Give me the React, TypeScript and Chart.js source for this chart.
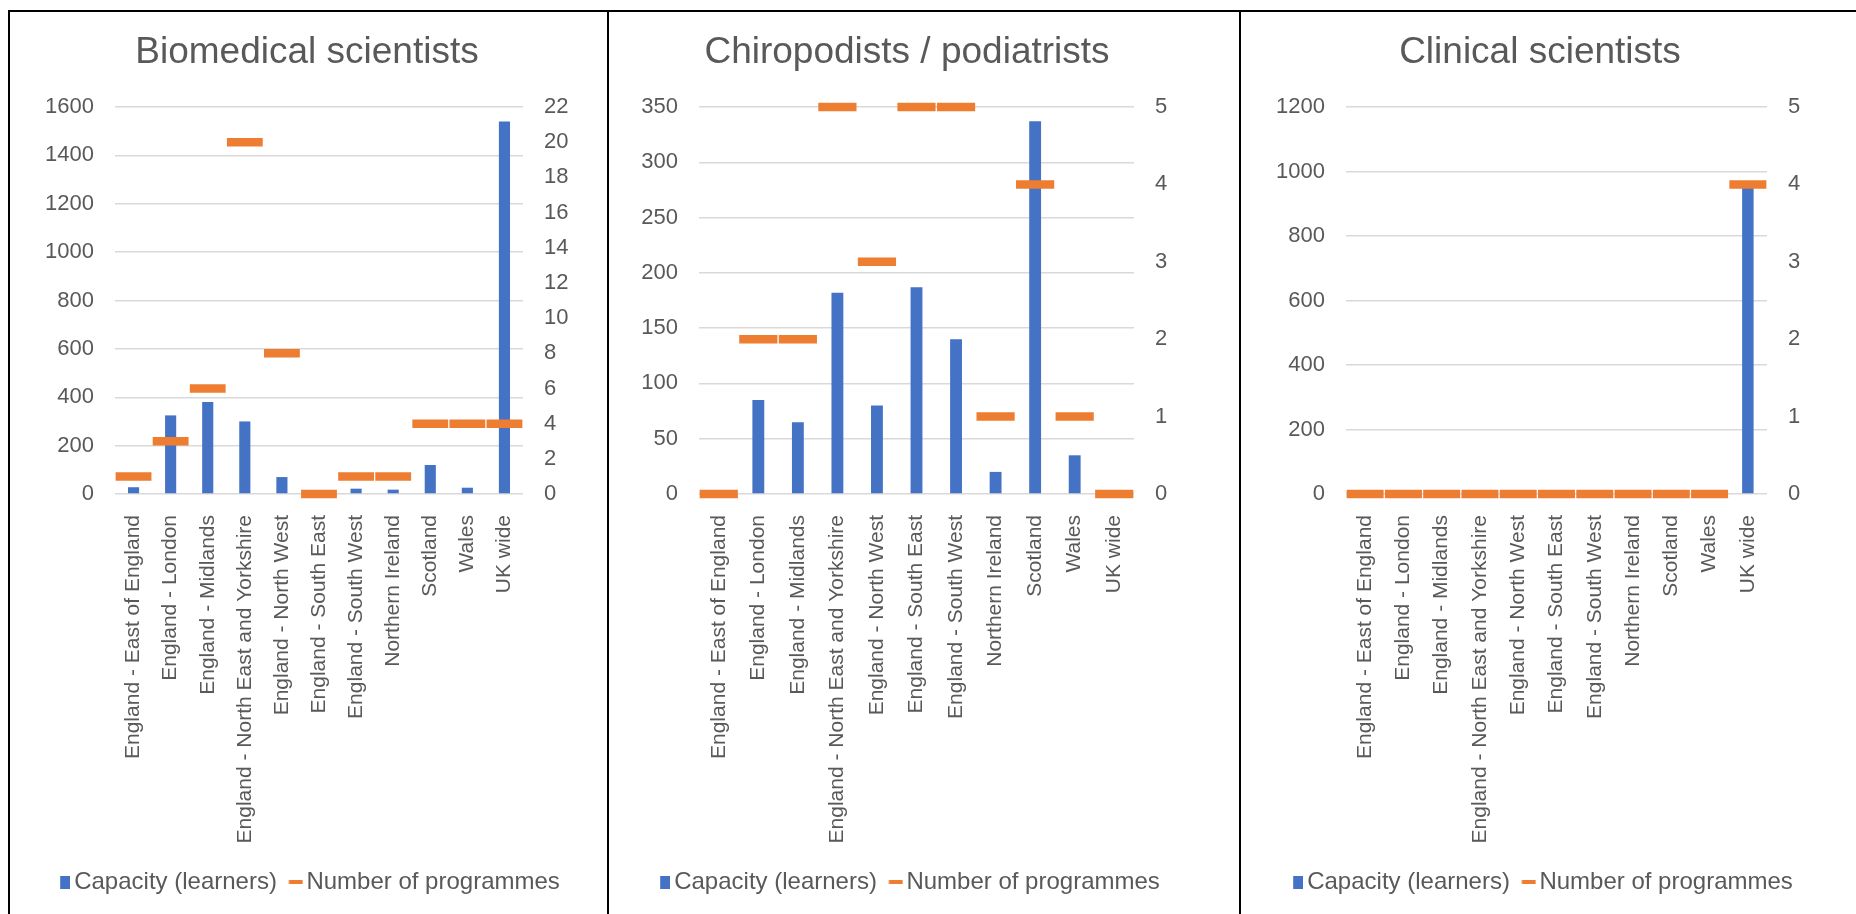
import React, { useEffect, useRef } from 'react';
import { Chart, registerables } from 'chart.js';

Chart.register(...registerables);

// ---------- data ----------
const categories = [
  'England - East of England',
  'England - London',
  'England - Midlands',
  'England - North East and Yorkshire',
  'England - North West',
  'England - South East',
  'England - South West',
  'Northern Ireland',
  'Scotland',
  'Wales',
  'UK wide',
];

const seriesNames = ['Capacity (learners)', 'Number of programmes'];

const biomedicalCapacity = [28, 325, 380, 300, 70, 0, 22, 18, 120, 26, 1540];
const biomedicalProgrammes = [1, 3, 6, 20, 8, 0, 1, 1, 4, 4, 4];

const chiropodistsCapacity = [0, 85, 65, 182, 80, 187, 140, 20, 337, 35, 0];
const chiropodistsProgrammes = [0, 2, 2, 5, 3, 5, 5, 1, 4, 1, 0];

const clinicalCapacity = [0, 0, 0, 0, 0, 0, 0, 0, 0, 0, 955];
const clinicalProgrammes = [0, 0, 0, 0, 0, 0, 0, 0, 0, 0, 4];

const biomedicalLeftTicks = { max: 1600, step: 200 };
const biomedicalRightTicks = { max: 22, step: 2 };
const chiropodistsLeftTicks = { max: 350, step: 50 };
const chiropodistsRightTicks = { max: 5, step: 1 };
const clinicalLeftTicks = { max: 1200, step: 200 };
const clinicalRightTicks = { max: 5, step: 1 };

// ---------- style ----------
const FONT = '"Liberation Sans", Arial, Helvetica, sans-serif';
const TEXT = '#595959';
const BLUE = '#4472C4';
const ORANGE = '#ED7D31';
const GRID = '#D9D9D9';

const CANVAS_TOP = 14;
const CANVAS_H = 890;
const LEGEND_FONT = 24;
const LEGEND_PAD = 9.5;
const X_AXIS_H = 366.5;

function makeSwatch(w: number, h: number, rx: number, ry: number, rw: number, rh: number, color: string) {
  const c = document.createElement('canvas');
  c.width = w;
  c.height = h;
  const g = c.getContext('2d')!;
  g.fillStyle = color;
  g.fillRect(rx, ry, rw, rh);
  return c;
}

type PanelProps = {
  title: string;
  capacity: number[];
  programmes: number[];
  leftTicks: { max: number; step: number };
  rightTicks: { max: number; step: number };
  left: number;
  width: number;
  leftAxisW: number;
  rightAxisW: number;
};

const plainTick = (v: any) => String(v);

function ChartPanel(p: PanelProps) {
  const ref = useRef<HTMLCanvasElement | null>(null);

  useEffect(() => {
    if (!ref.current) return;
    const blueSwatch = makeSwatch(24, 13, 14, 0, 10, 13, BLUE);
    const orangeSwatch = makeSwatch(26, 4, 11.4, 0, 14, 4, ORANGE);
    const dashRadius = (ctx: any) => {
      const xs = ctx.chart.scales.x;
      return xs ? (xs.width / categories.length) * 0.483 : 18;
    };

    const chart = new Chart(ref.current, {
      type: 'bar',
      data: {
        labels: categories,
        datasets: [
          {
            type: 'bar',
            label: seriesNames[0],
            data: p.capacity,
            backgroundColor: BLUE,
            yAxisID: 'y',
            order: 2,
            barPercentage: 0.3,
            categoryPercentage: 1,
          } as any,
          {
            type: 'line',
            label: seriesNames[1],
            data: p.programmes,
            yAxisID: 'y1',
            order: 1,
            showLine: false,
            clip: false,
            pointStyle: 'line',
            pointRadius: dashRadius,
            pointHoverRadius: dashRadius,
            pointBorderWidth: 8.5,
            pointHoverBorderWidth: 8.5,
            pointBorderColor: ORANGE,
            pointBackgroundColor: ORANGE,
            borderColor: ORANGE,
            backgroundColor: ORANGE,
          } as any,
        ],
      },
      options: {
        animation: false,
        responsive: false,
        devicePixelRatio: 1,
        layout: { padding: 0 },
        events: [],
        plugins: {
          title: {
            display: true,
            text: p.title,
            color: TEXT,
            font: { size: 37, weight: 'normal', family: FONT },
            padding: { top: 16.5, bottom: 32.1 },
          },
          legend: {
            position: 'bottom',
            labels: {
              usePointStyle: true,
              pointStyleWidth: 8,
              padding: LEGEND_PAD,
              color: TEXT,
              font: { size: LEGEND_FONT, family: FONT },
              generateLabels: () => [
                {
                  text: seriesNames[0],
                  pointStyle: blueSwatch,
                  fillStyle: BLUE,
                  strokeStyle: 'rgba(0,0,0,0)',
                  lineWidth: 0,
                  hidden: false,
                  fontColor: TEXT,
                  datasetIndex: 0,
                } as any,
                {
                  text: seriesNames[1],
                  pointStyle: orangeSwatch,
                  fillStyle: ORANGE,
                  strokeStyle: 'rgba(0,0,0,0)',
                  lineWidth: 0,
                  hidden: false,
                  fontColor: TEXT,
                  datasetIndex: 1,
                } as any,
              ],
            },
          },
          tooltip: { enabled: false },
        },
        scales: {
          x: {
            grid: { display: false },
            border: { display: false },
            ticks: {
              color: TEXT,
              font: { size: 21, family: FONT },
              minRotation: 90,
              maxRotation: 90,
              autoSkip: false,
              padding: 13,
            },
            afterFit: (s: any) => {
              s.height = X_AXIS_H;
            },
          },
          y: {
            position: 'left',
            min: 0,
            max: p.leftTicks.max,
            ticks: {
              stepSize: p.leftTicks.step,
              color: TEXT,
              font: { size: 22, family: FONT },
              padding: 21,
              callback: plainTick,
            },
            grid: { color: GRID, lineWidth: 1.5, drawTicks: false },
            border: { display: false },
            afterFit: (s: any) => {
              s.width = p.leftAxisW;
            },
          },
          y1: {
            position: 'right',
            min: 0,
            max: p.rightTicks.max,
            ticks: {
              stepSize: p.rightTicks.step,
              color: TEXT,
              font: { size: 22, family: FONT },
              padding: 21,
              callback: plainTick,
            },
            grid: { display: false, drawTicks: false },
            border: { display: false },
            afterFit: (s: any) => {
              s.width = p.rightAxisW;
            },
          },
        },
      } as any,
    });
    return () => chart.destroy();
  }, []);

  return (
    <canvas
      ref={ref}
      width={p.width}
      height={CANVAS_H}
      style={{ position: 'absolute', left: p.left, top: CANVAS_TOP, width: p.width, height: CANVAS_H }}
    />
  );
}

const line = (l: number, t: number, w: number, h: number) => (
  <div style={{ position: 'absolute', left: l, top: t, width: w, height: h, background: '#000' }} />
);

export default function App() {
  return (
    <div
      style={{
        position: 'absolute',
        left: 0,
        top: 0,
        width: 1856,
        height: 914,
        background: '#fff',
        overflow: 'hidden',
      }}
    >
      <ChartPanel
        title="Biomedical scientists"
        capacity={biomedicalCapacity}
        programmes={biomedicalProgrammes}
        leftTicks={biomedicalLeftTicks}
        rightTicks={biomedicalRightTicks}
        left={20}
        width={574}
        leftAxisW={95}
        rightAxisW={71}
      />
      <ChartPanel
        title="Chiropodists / podiatrists"
        capacity={chiropodistsCapacity}
        programmes={chiropodistsProgrammes}
        leftTicks={chiropodistsLeftTicks}
        rightTicks={chiropodistsRightTicks}
        left={630}
        width={554}
        leftAxisW={69}
        rightAxisW={50}
      />
      <ChartPanel
        title="Clinical scientists"
        capacity={clinicalCapacity}
        programmes={clinicalProgrammes}
        leftTicks={clinicalLeftTicks}
        rightTicks={clinicalRightTicks}
        left={1265}
        width={550}
        leftAxisW={81}
        rightAxisW={48}
      />
      {line(8, 9.5, 1848, 2)}
      {line(8, 9.5, 2, 905)}
      {line(606.5, 9.5, 2, 905)}
      {line(1239, 9.5, 2, 905)}
    </div>
  );
}
